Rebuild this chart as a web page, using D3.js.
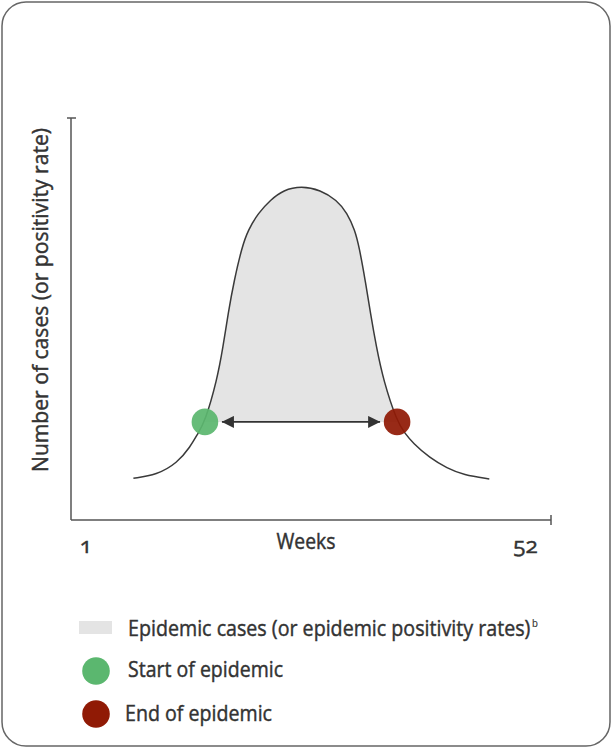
<!DOCTYPE html>
<html>
<head>
<meta charset="utf-8">
<script src="https://cdn.jsdelivr.net/npm/d3@7"></script>
<style>
  html, body { margin: 0; padding: 0; background: #fff; }
  svg { display: block; }
  text { font-family: "Open Sans", "Noto Sans", sans-serif; fill: #333; stroke: #333; stroke-width: 0.45px; }
</style>
</head>
<body>
<svg id="chart" width="616" height="750"></svg>
<script>
// ---- data ----
const weeks = [6.5, 9.2, 11.6, 13.1, 14.0, 14.8, 16.2, 16.9, 17.5, 18.2, 19.1, 19.8, 21.0, 22.4, 23.9, 26.0,
               28.2, 30.1, 31.3, 32.2, 32.7, 33.4, 34.0, 34.7, 35.5, 37.1, 38.0, 38.9, 40.9, 42.9, 44.8, 47.8];
const cases = [10.4, 11.2, 14.2, 18.2, 21.6, 24.4, 34.8, 43.0, 51.5, 59.7, 67.9, 72.1, 76.4, 79.6, 82.1, 83.1,
               82.1, 79.6, 76.4, 72.1, 67.9, 59.7, 51.5, 43.0, 34.8, 24.4, 21.6, 19.2, 15.4, 12.9, 11.2, 10.2];
const startWeek = 14.8;
const endWeek = 37.1;
const threshold = 24.4;
const xTickLabels = ["1", "52"];
const xTickValues = [1, 52];
const xTitle = "Weeks";
const yTitle = "Number of cases (or positivity rate)";
const legendLabels = ["Epidemic cases (or epidemic positivity rates)", "Start of epidemic", "End of epidemic"];
const legendNote = "b";

// ---- layout ----
const svg = d3.select("#chart");
const plot = { left: 71, right: 551, top: 118, bottom: 520 };
const x = d3.scaleLinear().domain([1, 52]).range([86, 525.5]);
const y = d3.scaleLinear().domain([0, 100]).range([plot.bottom, plot.top]);

const axisColor = "#555";
const lineColor = "#3a3a3a";
const fillColor = "#e4e4e4";
const green = "#5bb76f";
const red = "#901a05";
const fs = 22.5;

// frame
svg.append("rect")
  .attr("x", 2).attr("y", 2).attr("width", 608).attr("height", 744)
  .attr("rx", 24).attr("ry", 24)
  .attr("fill", "#fff").attr("stroke", "#666").attr("stroke-width", 1.5);

const data = weeks.map((w, i) => ({ w, v: cases[i] }));
const curve = d3.curveBasis;

// epidemic area (clipped to the epidemic period, above threshold)
const defs = svg.append("defs");
defs.append("clipPath").attr("id", "epi")
  .append("rect")
  .attr("x", x(startWeek)).attr("y", plot.top)
  .attr("width", x(endWeek) - x(startWeek)).attr("height", y(threshold) - plot.top);
svg.append("path")
  .datum(data)
  .attr("fill", fillColor)
  .attr("clip-path", "url(#epi)")
  .attr("d", d3.area().curve(curve)
    .x(d => x(d.w)).y0(y(threshold)).y1(d => y(d.v)));

// curve
svg.append("path")
  .datum(data)
  .attr("fill", "none")
  .attr("stroke", lineColor)
  .attr("stroke-width", 1.5)
  .attr("d", d3.line().curve(curve).x(d => x(d.w)).y(d => y(d.v)));

// axes
svg.append("line").attr("x1", plot.left).attr("x2", plot.left).attr("y1", plot.top).attr("y2", plot.bottom)
  .attr("stroke", axisColor).attr("stroke-width", 1.5);
svg.append("line").attr("x1", plot.left - 4).attr("x2", plot.left + 5).attr("y1", plot.top).attr("y2", plot.top)
  .attr("stroke", axisColor).attr("stroke-width", 1.5);
svg.append("line").attr("x1", plot.left).attr("x2", plot.right).attr("y1", plot.bottom).attr("y2", plot.bottom)
  .attr("stroke", axisColor).attr("stroke-width", 1.5);
svg.append("line").attr("x1", plot.right).attr("x2", plot.right).attr("y1", plot.bottom - 5).attr("y2", plot.bottom + 5)
  .attr("stroke", axisColor).attr("stroke-width", 1.5);

// x tick labels
svg.selectAll(".xtick").data(xTickValues).join("text")
  .attr("class", "xtick")
  .attr("x", d => x(d)).attr("y", 553)
  .attr("text-anchor", "middle")
  .attr("font-size", fs)
  .style("font-variant-numeric", "oldstyle-nums")
  .text((d, i) => xTickLabels[i]);

// x title
svg.append("text").attr("x", 306).attr("y", 549).attr("text-anchor", "middle")
  .attr("font-size", fs).attr("textLength", 59).attr("lengthAdjust", "spacingAndGlyphs")
  .text(xTitle);

// y title
svg.append("text").attr("transform", "translate(48,300) rotate(-90)")
  .attr("text-anchor", "middle").attr("font-size", fs)
  .attr("textLength", 344).attr("lengthAdjust", "spacingAndGlyphs")
  .text(yTitle);

// arrow
["arrEnd", "arrStart"].forEach((id, i) => {
  defs.append("marker").attr("id", id)
    .attr("viewBox", "0 0 10 10").attr("refX", 10).attr("refY", 5)
    .attr("markerWidth", 12).attr("markerHeight", 12).attr("markerUnits", "userSpaceOnUse")
    .attr("orient", i === 0 ? "auto" : "auto-start-reverse")
    .append("path").attr("d", "M0,0 L10,5 L0,10 Z").attr("fill", "#333");
});
svg.append("line")
  .attr("x1", x(startWeek) + 17).attr("x2", x(endWeek) - 17)
  .attr("y1", y(threshold)).attr("y2", y(threshold))
  .attr("stroke", "#333").attr("stroke-width", 1.6)
  .attr("marker-start", "url(#arrStart)").attr("marker-end", "url(#arrEnd)");

// start / end points
svg.append("circle").attr("cx", x(startWeek)).attr("cy", y(threshold)).attr("r", 13.3)
  .attr("fill", green).attr("fill-opacity", 0.93);
svg.append("circle").attr("cx", x(endWeek)).attr("cy", y(threshold)).attr("r", 13.3)
  .attr("fill", red).attr("fill-opacity", 0.93);

// legend
svg.append("rect").attr("x", 79).attr("y", 621).attr("width", 33).attr("height", 13).attr("fill", fillColor);
const l1 = svg.append("text").attr("x", 128).attr("y", 636).attr("font-size", fs)
  .attr("textLength", 410).attr("lengthAdjust", "spacingAndGlyphs");
l1.append("tspan").text(legendLabels[0]);
l1.append("tspan").attr("dx", 2).attr("dy", -9).attr("font-size", 11).style("stroke-width", "0.2px").text(legendNote);

svg.append("circle").attr("cx", 96).attr("cy", 671).attr("r", 13.8).attr("fill", green);
svg.append("text").attr("x", 128).attr("y", 677).attr("font-size", fs)
  .attr("textLength", 155).attr("lengthAdjust", "spacingAndGlyphs").text(legendLabels[1]);

svg.append("circle").attr("cx", 96).attr("cy", 714).attr("r", 13.8).attr("fill", red);
svg.append("text").attr("x", 125).attr("y", 721).attr("font-size", fs)
  .attr("textLength", 147).attr("lengthAdjust", "spacingAndGlyphs").text(legendLabels[2]);
</script>
</body>
</html>
